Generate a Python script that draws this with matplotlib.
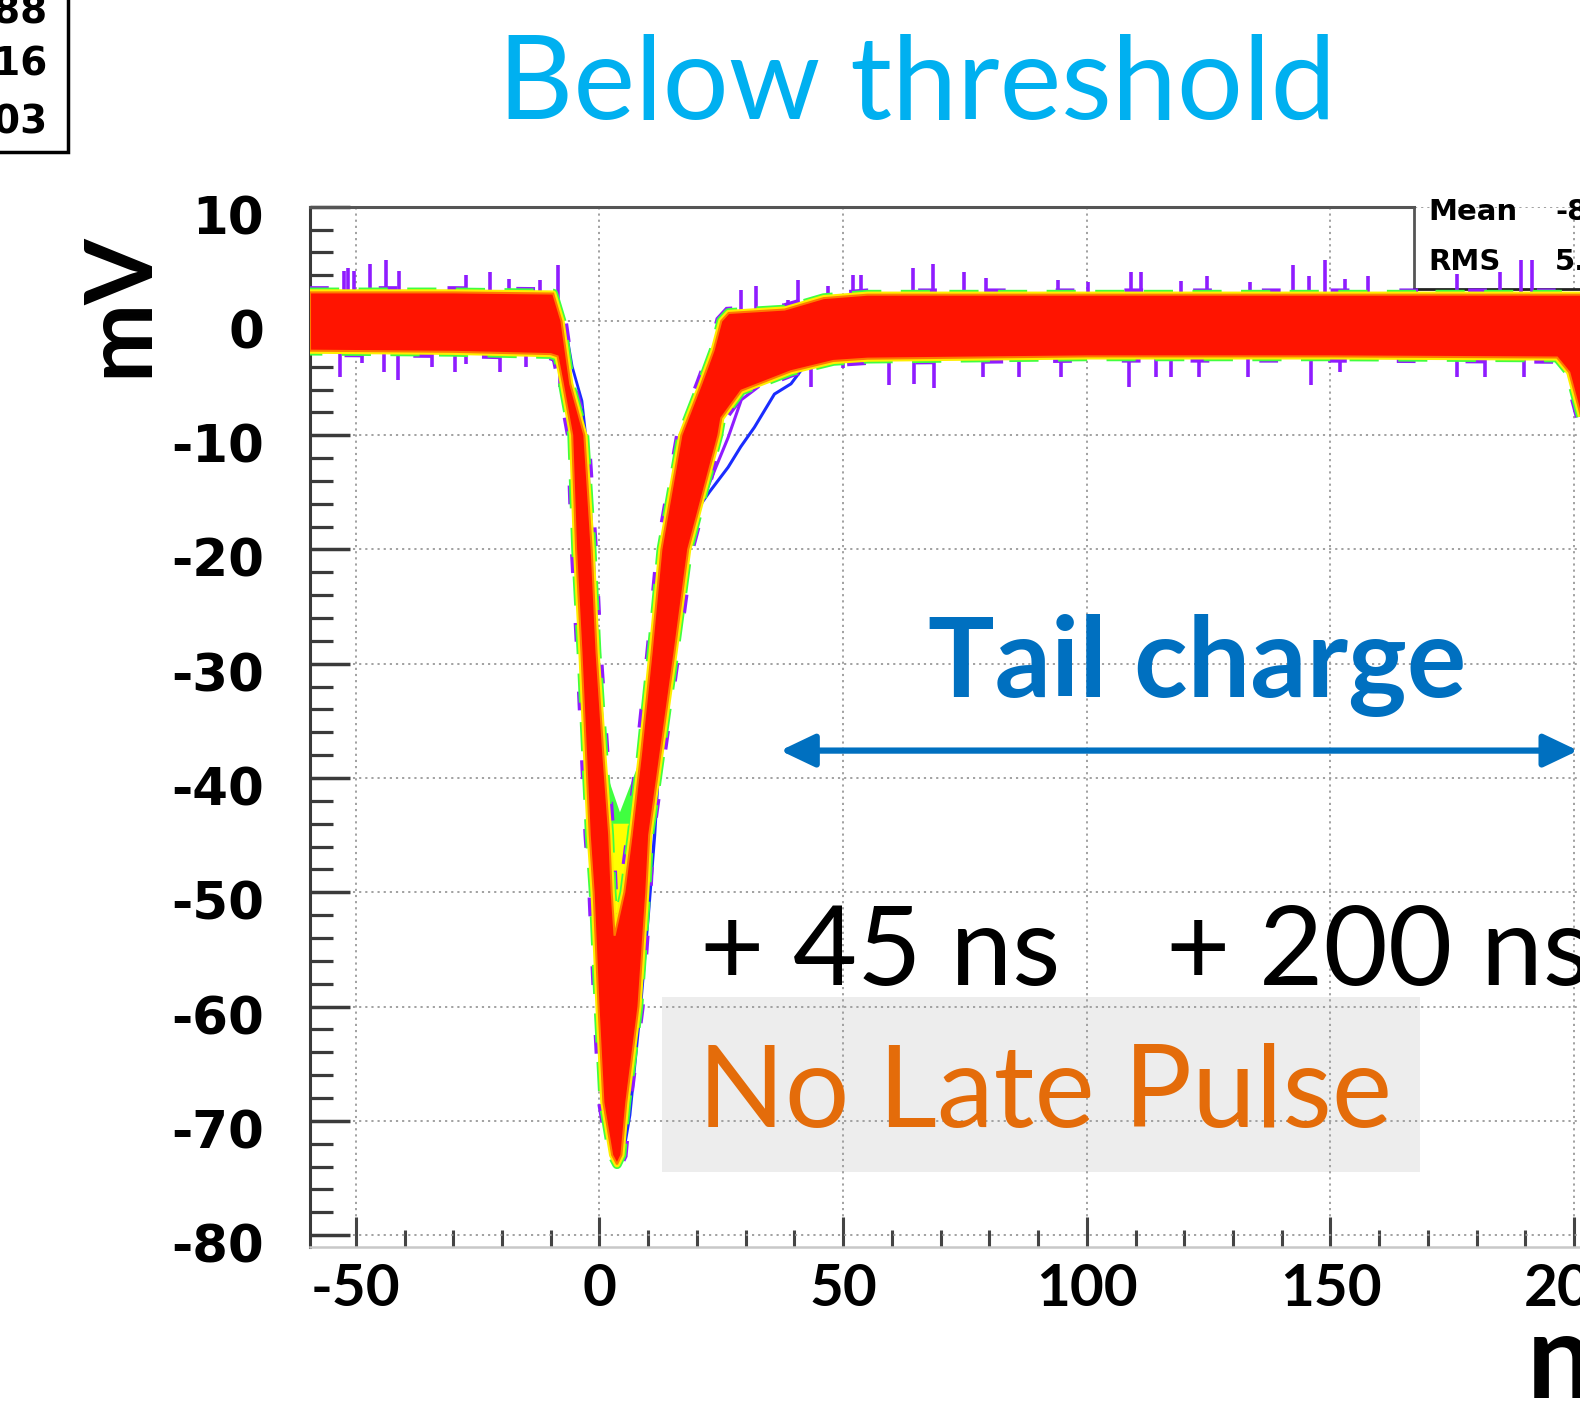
import numpy as np
import matplotlib.pyplot as plt
from matplotlib.patches import Rectangle
from matplotlib.ticker import MultipleLocator, FixedLocator
from matplotlib.transforms import ScaledTranslation

# outline of the dense (red) band of overlaid pulses, time in ns / amplitude in mV
band_t = [-59.4, -30.0, -9.5, -7.8,
          -6.0, -3.1, -1.6, -0.6, 0.8, 2.0, 2.5, 3.1,
          5.1, 6.6, 8.5, 10.7, 12.7, 16.8, 20.9, 23.4, 25.0, 26.5, 38.0, 46.0, 55.0, 120.0, 201.5,
          201.5, 199.0, 196.5,
          150.0, 100.0, 55.0, 48.0, 39.3, 29.1, 25.0, 24.4, 18.2, 15.4, 10.2, 9.6, 8.0, 5.5, 4.5, 3.6,
          2.6, 0.8, -0.2, -1.2, -2.0, -3.7, -4.8, -5.6, -7.6, -8.6, -10.0, -30.0, -59.4]
band_v = [2.5, 2.5, 2.4, 0.0,
          -5.5, -10.0, -20.0, -29.0, -38.0, -45.0, -50.0, -53.8,
          -50.0, -45.0, -38.0, -29.0, -20.0, -10.0, -5.5, -2.6, 0.0, 0.7, 1.0, 2.0, 2.3, 2.3, 2.3,
          -8.5, -4.5, -3.2,
          -3.1, -3.1, -3.3, -3.5, -4.4, -6.1, -8.5, -10.0, -20.0, -29.0, -45.0, -50.0, -60.0, -68.4, -73.0, -73.8,
          -73.0, -68.4, -60.0, -50.0, -45.0, -29.0, -20.0, -10.0, -5.3, -3.1, -2.9, -2.7, -2.6]

# sparse region inside the V
wedge_t = [1.0, 2.5, 3.1, 5.1, 7.8, 4.2]
wedge_v = [-39.0, -50.0, -53.8, -50.0, -39.0, -43.0]
core_t = [2.0, 2.5, 3.1, 5.1, 6.0]
core_v = [-44.0, -50.0, -53.5, -50.0, -44.0]

# single outlier traces
blue_tail_t = [18.9, 22.5, 26.4, 29.0, 31.8, 35.9, 39.3, 41.4]
blue_tail_v = [-17.2, -15.0, -12.8, -11.0, -9.3, -6.4, -5.5, -4.3]
purple_tail_t = [19.0, 20.3, 23.5, 26.4, 29.1, 32.5]
purple_tail_v = [-18.5, -16.6, -13.2, -10.2, -6.9, -5.8]
blue_fall_t = [-6.6, -5.6, -3.6, -2.7, -1.3, -0.3, 1.0]
blue_fall_v = [-1.5, -4.0, -7.0, -10.5, -20.0, -29.0, -38.0]
blue_tip_t = [12.0, 11.3, 10.0, 8.4, 6.2, 5.2]
blue_tip_v = [-40.0, -45.0, -52.0, -60.0, -69.5, -72.0]

# noise spikes sticking out of the baseline band
spike_up_t = [-52.5, -51.5, -50.4, -47.1, -43.9, -41.2, -27.3, -22.5, -18.6, -12.3, -8.6,
              29.1, 32.2, 38.7, 40.8, 46.9, 52.0, 53.7, 64.3, 68.4, 74.8, 79.3, 94.1, 100.2,
              109.0, 111.1, 119.3, 124.6, 133.4, 142.4, 145.5, 148.8, 152.9, 157.6, 176.0,
              184.8, 189.1, 191.4]
spike_up_v = [4.4, 4.6, 4.4, 5.0, 5.3, 4.4, 4.0, 4.3, 3.7, 3.6, 4.9,
              2.7, 3.1, 1.8, 3.6, 3.1, 4.0, 4.0, 4.6, 5.0, 4.3, 3.8, 3.6, 3.4,
              4.3, 4.3, 3.5, 3.9, 3.4, 4.9, 3.9, 5.3, 3.7, 3.9, 4.1,
              4.3, 5.3, 5.3]
spike_dn_t = [-53.3, -48.8, -44.3, -41.4, -34.4, -29.7, -27.3, -20.5, -15.0, -8.2,
              43.4, 50.0, 59.4, 64.5, 68.6, 78.7, 86.1, 94.7, 108.6, 114.1, 117.2,
              123.0, 133.0, 146.1, 152.0, 176.0, 181.8, 189.8]
spike_dn_v = [-4.9, -3.7, -4.5, -5.2, -4.0, -4.5, -3.8, -4.5, -4.0, -5.8,
              -5.8, -4.1, -5.6, -5.5, -5.9, -4.9, -4.9, -4.9, -5.8, -4.9, -4.9,
              -4.9, -4.9, -5.6, -4.5, -4.9, -4.9, -4.9]

W, H = 1580, 1404


def px(x, y):
    return x / W, 1 - y / H


fig = plt.figure(figsize=(15.8, 14.04), dpi=100)
ax = fig.add_axes([310 / W, 1 - 1246.5 / H, 1 - 310 / W, (1246.5 - 206.7) / H])
ax.set_xlim(-59.4, 201.2)
ax.set_ylim(-81, 10)

red = '#ff1400'
purple = '#8f1cff'
blue = '#1a2cff'

ax.vlines(spike_up_t, 0, spike_up_v, colors=purple, lw=2.6, zorder=2)
ax.vlines(spike_dn_t, 0, spike_dn_v, colors=purple, lw=2.6, zorder=2)
ax.plot(blue_tail_t, blue_tail_v, color=blue, lw=2.2, zorder=2)
ax.plot(purple_tail_t, purple_tail_v, color=purple, lw=2.2, zorder=2)
ax.plot(blue_fall_t, blue_fall_v, color=blue, lw=2.0, zorder=2)
ax.plot(blue_tip_t, blue_tip_v, color=blue, lw=2.4, zorder=2)

ax.fill(wedge_t, wedge_v, facecolor='#40ff40', edgecolor='none', zorder=3)
ax.fill(core_t, core_v, facecolor='#ffff00', edgecolor='none', zorder=3.1)
# speckled fringe around the dense band
ax.fill(band_t, band_v, facecolor='none', edgecolor=purple, lw=9, ls=(0, (1.5, 4)), zorder=3.15)
ax.fill(band_t, band_v, facecolor='none', edgecolor='#40ff40', lw=7, ls=(0, (3, 2)),
        joinstyle='round', zorder=3.2)
ax.fill(band_t, band_v, facecolor='none', edgecolor='#ffee00', lw=4.5, joinstyle='round', zorder=3.3)
ax.fill(band_t, band_v, facecolor=red, edgecolor='#ff7a00', lw=1.5, zorder=3.4)

# grey box behind the label
ax.add_patch(Rectangle(px(662, 1172), (1420 - 662) / W, (1172 - 997) / H,
                       transform=fig.transFigure, facecolor='#ededed', edgecolor='none', zorder=0.2))

# stats box outline (top right)
ax.plot([167.2, 167.2], [10, 2.8], color='#555555', lw=2, zorder=1.5, clip_on=False)
ax.plot([167.2, 205], [2.8, 2.8], color='#222222', lw=2, zorder=1.5)

ax.annotate('', xy=(200.8, -37.6), xytext=(37.1, -37.6),
            arrowprops=dict(arrowstyle='<|-|>,head_length=1.05,head_width=0.5',
                            lw=4.5, color='#0070C0', mutation_scale=20, shrinkA=0, shrinkB=0))

# ROOT-like frame
ax.set_axisbelow(True)
ax.grid(True, which='major', color='#9a9a9a', lw=1.3, ls=(0, (1.2, 2.2)))
ax.spines['right'].set_visible(False)
ax.spines['top'].set_bounds(-59.4, 167.2)
ax.spines['top'].set_color('#555555')
ax.spines['top'].set_linewidth(2.2)
ax.spines['left'].set_color('#3a3a3a')
ax.spines['left'].set_linewidth(2.2)
ax.spines['bottom'].set_color('#c8c8c8')
ax.spines['bottom'].set_linewidth(1.8)

ax.yaxis.set_major_locator(FixedLocator(np.arange(-80, 11, 10)))
ax.yaxis.set_minor_locator(MultipleLocator(2))
ax.xaxis.set_major_locator(FixedLocator([-50, 0, 50, 100, 150, 200]))
ax.xaxis.set_minor_locator(MultipleLocator(10))
ax.tick_params(axis='y', which='major', direction='in', length=29, width=2.5, color='#3a3a3a', pad=33)
ax.tick_params(axis='y', which='minor', direction='in', length=16.5, width=2.3, color='#3a3a3a')
ax.tick_params(axis='x', which='major', direction='in', length=21.5, width=2.2, color='#444444', pad=12)
ax.tick_params(axis='x', which='minor', direction='in', length=12, width=2.2, color='#444444')
ax.tick_params(top=False, right=False, which='both')

ax.set_yticklabels([str(v) for v in range(-80, 11, 10)], fontsize=37,
                   fontweight='bold', family='DejaVu Sans')
ax.set_xticklabels(['-50', '0', '50', '100', '150', '200'], fontsize=42,
                   fontweight='bold', family='Lato')
for lab in ax.get_yticklabels():
    lab.set_transform(lab.get_transform() + ScaledTranslation(0, -0.08, fig.dpi_scale_trans))

# axis titles
fig.text(*px(120, 305), 'mV', rotation=90, ha='center', va='center', fontsize=68,
         fontweight='bold', family='Lato')
fig.text(*px(1527, 1398), 'ns', ha='left', va='baseline', fontsize=85,
         fontweight='bold', family='Lato')

# annotations
fig.text(*px(917, 119), 'Below threshold', ha='center', va='baseline', fontsize=84,
         color='#00B0F0', family='Lato')
fig.text(*px(1197, 697), 'Tail charge', ha='center', va='baseline', fontsize=80,
         fontweight='bold', color='#0070C0', family='Lato')
fig.text(*px(700, 985), '+ 45 ns', ha='left', va='baseline', fontsize=80, family='Lato')
fig.text(*px(1166, 985), '+ 200 ns', ha='left', va='baseline', fontsize=80, family='Lato')
fig.text(*px(698, 1127), 'No Late Pulse', ha='left', va='baseline', fontsize=82,
         color='#E46C0A', family='Lato')

# partial stats boxes at the edges
fig.add_artist(Rectangle((-0.05, 1 - 152 / H), 0.05 + 68 / W, 0.2, transform=fig.transFigure,
                         fill=False, edgecolor='black', lw=2.5))
for y, s in [(13, '188'), (65, '316'), (122, '303')]:
    fig.text(*px(48, y), s, ha='right', va='center', fontsize=28, fontweight='bold',
             family='DejaVu Sans')
for y, a, b in [(212, 'Mean', '-8.4'), (262, 'RMS', '5.1')]:
    fig.text(*px(1428, y), a, ha='left', va='center', fontsize=21, fontweight='bold',
             family='DejaVu Sans')
    fig.text(*px(1555, y), b, ha='left', va='center', fontsize=21, fontweight='bold',
             family='DejaVu Sans')

fig.savefig('out.png', dpi=100)
